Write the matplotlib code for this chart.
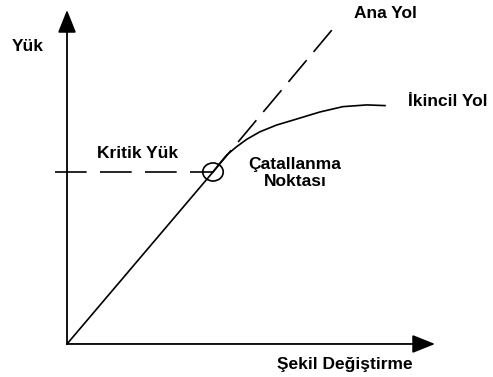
import matplotlib
matplotlib.use('Agg')
import matplotlib.pyplot as plt
from matplotlib.patches import Ellipse

plt.rc('font', family='Liberation Sans', weight='bold', size=12.5)

# Critical (bifurcation) point taken as (1, 1)
crit_def = 1.0
crit_load = 1.0

# Primary path: origin -> critical point -> beyond (dashed)
primary_def = [0.0, 1.0]
primary_load = [0.0, 1.0]
main_def = [1.0, 1.815]
main_load = [1.0, 1.826]

# Secondary path after bifurcation
second_def = [1.0, 1.048, 1.094, 1.162, 1.231, 1.322, 1.436, 1.550, 1.733, 1.890, 2.055, 2.178]
second_load = [1.0, 1.052, 1.099, 1.147, 1.190, 1.234, 1.273, 1.302, 1.349, 1.380, 1.390, 1.386]

# Critical load level line
crit_line_def = [-0.082, 1.0]
crit_line_load = [1.0, 1.0]

x_tip = 2.521
y_tip = 1.942

fig = plt.figure(figsize=(4.93, 3.77), dpi=100)
ax = fig.add_axes([0, 0, 1, 1])
ax.set_xlim(-0.459, 2.918)
ax.set_ylim(-0.192, 2.0)
ax.axis('off')

lw = 1.2

# Axes with arrows
arrow = dict(arrowstyle='-|>,head_length=1.0,head_width=0.4', lw=1.3,
             color='black', shrinkA=0, shrinkB=0, mutation_scale=14)
ax.annotate('', xy=(x_tip, 0), xytext=(0, 0), arrowprops=arrow)
ax.annotate('', xy=(0, y_tip), xytext=(0, 0), arrowprops=arrow)

# Paths
ax.plot(primary_def, primary_load, color='black', lw=lw)
l1, = ax.plot(main_def, main_load, color='black', lw=lw)
l1.set_dashes([17, 6.5])
ax.plot(second_def, second_load, color='black', lw=lw, solid_joinstyle='round')
l2, = ax.plot(crit_line_def, crit_line_load, color='black', lw=lw)
l2.set_dashes([19, 8])

# Bifurcation marker
ax.add_patch(Ellipse((crit_def, crit_load), 0.140, 0.105, fill=False,
                     edgecolor='black', lw=lw))

# Labels
ax.text(-0.267, 1.727, 'Yük', ha='center', va='center')
ax.text(0.486, 1.110, 'Kritik Yük', ha='center', va='center')
ax.text(2.178, 1.919, 'Ana Yol', ha='center', va='center')
ax.text(2.610, 1.407, 'İkincil Yol', ha='center', va='center')
ax.text(1.562, 0.994, 'Çatallanma\nNoktası', ha='center', va='center',
        linespacing=1.15)
ax.text(1.904, -0.122, 'Şekil Değiştirme', ha='center', va='center')

plt.savefig('out.png', dpi=100)
plt.close()
